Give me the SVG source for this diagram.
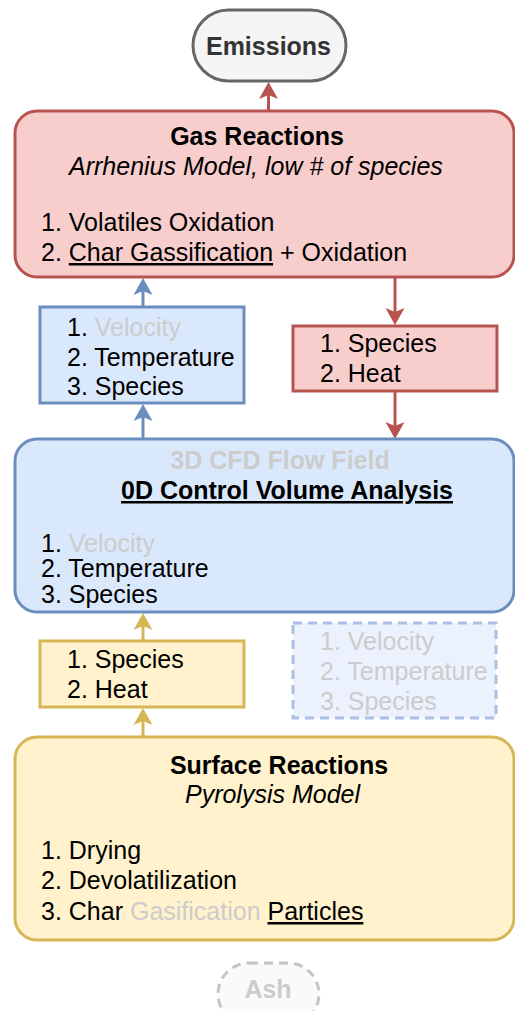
<svg xmlns="http://www.w3.org/2000/svg" width="515" height="1011" viewBox="0 0 515 1011">
<style>
text{font-family:"Liberation Sans",Arial,sans-serif;font-size:25px;fill:#000}
.b{font-weight:bold}
.i{font-style:italic}
.g{fill:#cccccc}
.u{text-decoration:underline}
.red{fill:#f8cecc;stroke:#b85450;stroke-width:3}
.blue{fill:#dae8fc;stroke:#6c8ebf;stroke-width:3}
.yel{fill:#fff2cc;stroke:#d6b656;stroke-width:3}
.ln{fill:none;stroke-width:3}
</style>
<defs>
<marker id="ar" markerUnits="userSpaceOnUse" markerWidth="20" markerHeight="20" viewBox="0 0 20 20" refX="8" refY="10" orient="auto"><path d="M1,0.5 L18,10 L1,19.5 L5,10 Z" fill="#b85450"/></marker>
<marker id="ab" markerUnits="userSpaceOnUse" markerWidth="20" markerHeight="20" viewBox="0 0 20 20" refX="8" refY="10" orient="auto"><path d="M1,0.5 L18,10 L1,19.5 L5,10 Z" fill="#6c8ebf"/></marker>
<marker id="ay" markerUnits="userSpaceOnUse" markerWidth="20" markerHeight="20" viewBox="0 0 20 20" refX="8" refY="10" orient="auto"><path d="M1,0.5 L18,10 L1,19.5 L5,10 Z" fill="#d6b656"/></marker>
</defs>
<rect width="515" height="1011" fill="#ffffff"/>

<g id="connectors">
<line class="ln" x1="268.5" y1="111" x2="268.5" y2="92" stroke="#b85450" marker-end="url(#ar)"/>
<line class="ln" x1="143" y1="307" x2="143" y2="288" stroke="#6c8ebf" marker-end="url(#ab)"/>
<line class="ln" x1="143" y1="439" x2="143" y2="414" stroke="#6c8ebf" marker-end="url(#ab)"/>
<line class="ln" x1="395" y1="277" x2="395" y2="315" stroke="#b85450" marker-end="url(#ar)"/>
<line class="ln" x1="395" y1="391" x2="395" y2="429" stroke="#b85450" marker-end="url(#ar)"/>
<line class="ln" x1="143" y1="641" x2="143" y2="623" stroke="#d6b656" marker-end="url(#ay)"/>
<line class="ln" x1="143" y1="737" x2="143" y2="718" stroke="#d6b656" marker-end="url(#ay)"/>
</g>

<g id="emissions">
<rect x="193" y="10" width="153" height="71" rx="35.5" fill="#f5f5f5" stroke="#666666" stroke-width="3"/>
<text x="268.5" y="55" text-anchor="middle" class="b" style="fill:#333333">Emissions</text>
</g>

<g id="gas-reactions">
<rect x="15" y="111" width="499" height="166" rx="22" class="red"/>
<text x="257" y="145" text-anchor="middle" class="b">Gas Reactions</text>
<text x="69" y="175" class="i">Arrhenius Model, low # of species</text>
<text x="41" y="231">1. Volatiles Oxidation</text>
<text x="41" y="261">2. <tspan class="u">Char Gassification</tspan> + Oxidation</text>
</g>

<g id="cfd-outputs">
<rect x="40" y="307" width="204" height="96" class="blue"/>
<text x="67" y="336">1. <tspan class="g">Velocity</tspan></text>
<text x="67" y="366">2. Temperature</text>
<text x="67" y="395">3. Species</text>
</g>

<g id="gas-outputs">
<rect x="293" y="326" width="204" height="65" class="red"/>
<text x="320" y="352">1. Species</text>
<text x="320" y="382">2. Heat</text>
</g>

<g id="control-volume">
<rect x="15" y="439" width="499" height="173" rx="22" class="blue"/>
<text x="280" y="469" text-anchor="middle" class="b g">3D CFD Flow Field</text>
<text x="287" y="499" text-anchor="middle" class="b u">0D Control Volume Analysis</text>
<text x="41" y="552">1. <tspan class="g">Velocity</tspan></text>
<text x="41" y="577">2. Temperature</text>
<text x="41" y="603">3. Species</text>
</g>

<g id="dashed-outputs">
<rect x="293" y="623" width="203" height="95" fill="#ebf2fd" stroke="#a9c0e2" stroke-width="3" stroke-dasharray="9 6"/>
<text x="320" y="650" class="g">1. Velocity</text>
<text x="320" y="680" class="g">2. Temperature</text>
<text x="320" y="710" class="g">3. Species</text>
</g>

<g id="surface-outputs">
<rect x="40" y="641" width="204" height="66" class="yel"/>
<text x="67" y="668">1. Species</text>
<text x="67" y="698">2. Heat</text>
</g>

<g id="surface-reactions">
<rect x="15" y="737" width="499" height="203" rx="22" class="yel"/>
<text x="279" y="774" text-anchor="middle" class="b">Surface Reactions</text>
<text x="272.5" y="803" text-anchor="middle" class="i">Pyrolysis Model</text>
<text x="41" y="859">1. Drying</text>
<text x="41" y="889">2. Devolatilization</text>
<text x="41" y="920">3. Char <tspan class="g">Gasification</tspan> <tspan class="u">Particles</tspan></text>
</g>

<g id="ash">
<rect x="218" y="963" width="101" height="62" rx="31" fill="#fafafa" stroke="#c4c4c4" stroke-width="3" stroke-dasharray="9 6"/>
<text x="268" y="998" text-anchor="middle" class="b" style="fill:#cccccc">Ash</text>
</g>
</svg>
